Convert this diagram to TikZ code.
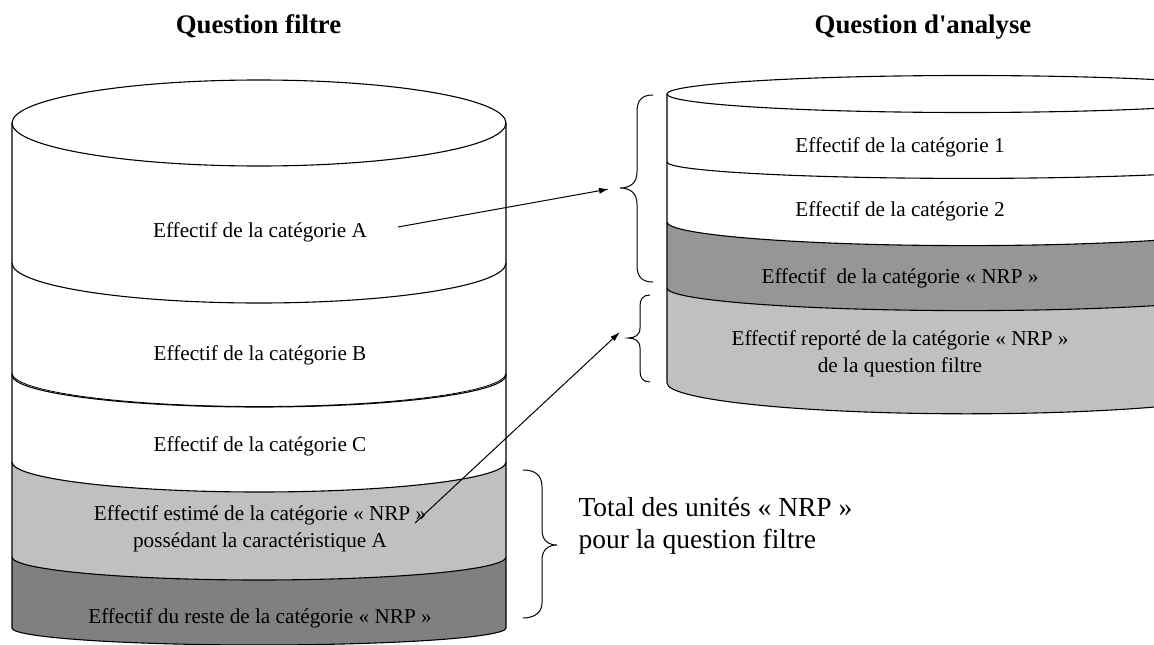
\documentclass[tikz,border=0pt]{standalone}
\usepackage{fontspec}
\setmainfont{Liberation Serif}[Ligatures=TeXOff]
\usetikzlibrary{arrows.meta}
\definecolor{nrplight}{HTML}{C0C0C0}
\definecolor{nrpdarkL}{HTML}{808080}
\definecolor{nrpdarkR}{HTML}{969696}

\begin{document}
\begin{tikzpicture}[x=1pt,y=-1pt,line width=1.1pt,
  lbl/.style={font=\fontsize{21.2}{26.8}\selectfont,align=center,anchor=base,inner sep=0pt},
  ttl/.style={font=\fontsize{26.8}{30}\selectfont\bfseries,anchor=base,inner sep=0pt},
  note/.style={font=\fontsize{27.5}{32}\selectfont,align=left,anchor=base west,inner sep=0pt},
  link/.style={line width=1pt,-{Latex[length=10pt,width=6pt]}},
  bracepath/.style={line width=1pt}]

\useasboundingbox (0,0) rectangle (1154,645);
\clip (0,0) rectangle (1154,645);

% ---------- left cylinder: question filtre ----------
\fill[white] (12,123) -- (12,628) arc[start angle=180,end angle=0,x radius=247,y radius=17] -- (506,123) -- cycle;
\fill[white] (259,123) ellipse[x radius=247,y radius=43];
\fill[nrplight] (12,462) arc[start angle=180,end angle=0,x radius=247,y radius=30]
  -- (506,557) arc[start angle=0,end angle=180,x radius=247,y radius=23] -- cycle;
\fill[nrpdarkL] (12,557) arc[start angle=180,end angle=0,x radius=247,y radius=23]
  -- (506,628) arc[start angle=0,end angle=180,x radius=247,y radius=17] -- cycle;

\draw (259,123) ellipse[x radius=247,y radius=43];
\draw (12,123) -- (12,628) arc[start angle=180,end angle=0,x radius=247,y radius=17] -- (506,123);
\draw (12,263) arc[start angle=180,end angle=0,x radius=247,y radius=40];
\draw (12,375) arc[start angle=180,end angle=0,x radius=247,y radius=32];
\draw[line width=0.8pt] (12,373) arc[start angle=180,end angle=0,x radius=247,y radius=33.5];
\draw (12,462) arc[start angle=180,end angle=0,x radius=247,y radius=30];
\draw (12,557) arc[start angle=180,end angle=0,x radius=247,y radius=23];

% ---------- right cylinder: question d'analyse ----------
\fill[white] (667,94) -- (667,383) arc[start angle=180,end angle=0,x radius=300,y radius=30.8] -- (1267,94) -- cycle;
\fill[white] (967,94) ellipse[x radius=300,y radius=18.5];
\fill[nrpdarkR] (667,222) arc[start angle=180,end angle=0,x radius=300,y radius=23.6]
  -- (1267,288) arc[start angle=0,end angle=180,x radius=300,y radius=22.6] -- cycle;
\fill[nrplight] (667,288) arc[start angle=180,end angle=0,x radius=300,y radius=22.6]
  -- (1267,383) arc[start angle=0,end angle=180,x radius=300,y radius=30.8] -- cycle;

\draw (967,94) ellipse[x radius=300,y radius=18.5];
\draw (667,94) -- (667,383) arc[start angle=180,end angle=0,x radius=300,y radius=30.8] -- (1267,94);
\draw (667,162) arc[start angle=180,end angle=0,x radius=300,y radius=16.4];
\draw (667,222) arc[start angle=180,end angle=0,x radius=300,y radius=23.6];
\draw (667,288) arc[start angle=180,end angle=0,x radius=300,y radius=22.6];

% ---------- titles ----------
\node[ttl] (tfiltre) at (258.5,33) {Question filtre};
\node[ttl] (tanalyse) at (923,33) {Question d'analyse};

% ---------- layer labels (multi-line nodes sit on their last baseline) ----------
\node[lbl] (catA) at (260,237) {Effectif de la catégorie A};
\node[lbl] (catB) at (260,360) {Effectif de la catégorie B};
\node[lbl] (catC) at (260,451) {Effectif de la catégorie C};
\node[lbl] (estim) at (260,547) {Effectif estimé de la catégorie « NRP »\\possédant la caractéristique A};
\node[lbl] (reste) at (260,623) {Effectif du reste de la catégorie « NRP »};

\node[lbl] (cat1) at (900,152) {Effectif de la catégorie 1};
\node[lbl] (cat2) at (900,216) {Effectif de la catégorie 2};
\node[lbl] (catN) at (900,283) {Effectif~ de la catégorie « NRP »};
\node[lbl] (report) at (900,372) {Effectif reporté de la catégorie « NRP »\\de la question filtre};

\node[note] (total) at (578,548) {Total des unités « NRP »\\pour la question filtre};

% ---------- braces ----------
\coordinate (tipA) at (620,188);
\coordinate (tipR) at (628,338);
\draw[bracepath] (653,95) .. controls (642,95) and (637,100) .. (637,112) -- (637,172)
  .. controls (637,183) and (630,188) .. (tipA) .. controls (630,188) and (637,193) .. (637,204)
  -- (637,265) .. controls (637,277) and (642,282) .. (653,282);
\draw[bracepath] (650,295) .. controls (643,295) and (640,299) .. (640,306) -- (640,328)
  .. controls (640,335) and (635,338) .. (tipR) .. controls (635,338) and (640,341) .. (640,348)
  -- (640,371) .. controls (640,378) and (643,382) .. (650,382);
\draw[bracepath] (523,470) .. controls (535,470) and (542,475) .. (542,487) -- (542,530)
  .. controls (542,540) and (548,545) .. (557,545) .. controls (548,545) and (542,550) .. (542,560)
  -- (542,603) .. controls (542,612) and (535,618) .. (523,618);

% ---------- transfer arrows ----------
\coordinate (fromA) at (398,227);
\coordinate (toA) at (609,189);
\coordinate (fromN) at (415,523);
\coordinate (toN) at (620,332);
\draw[link] (fromA) -- (toA);
\draw[link] (fromN) -- (toN);
\end{tikzpicture}
\end{document}
